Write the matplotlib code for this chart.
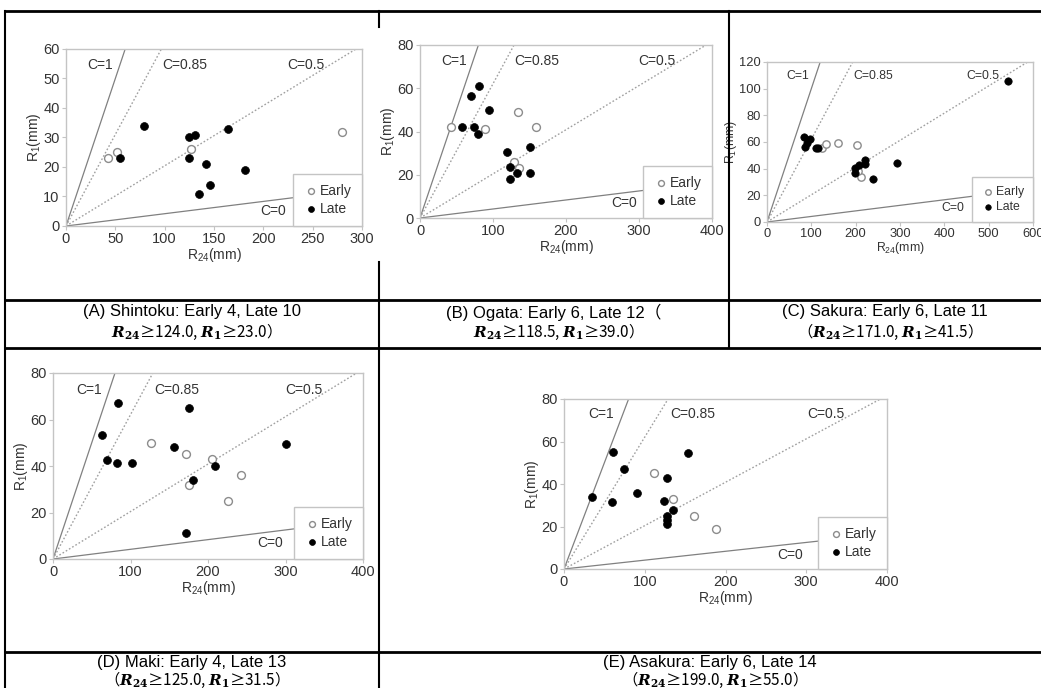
import matplotlib
matplotlib.use("Agg")
import matplotlib.pyplot as plt
from matplotlib.lines import Line2D
import numpy as np

plt.rcParams['font.family'] = ['Liberation Sans', 'DejaVu Sans']
plt.rcParams['mathtext.fontset'] = 'dejavuserif'

# ---------------- data ----------------
C_values = [1, 0.85, 0.5, 0]
C_labels = ["C=1", "C=0.85", "C=0.5", "C=0"]

A_early_x = [43, 52, 127, 280]
A_early_y = [23, 25, 26, 32]
A_late_x = [79, 55, 125, 131, 164, 125, 142, 146, 135, 181]
A_late_y = [34, 23, 30, 31, 33, 23, 21, 14, 11, 19]

B_early_x = [42, 89, 134, 159, 129, 135]
B_early_y = [42, 41, 49, 42, 26, 23]
B_late_x = [70, 81, 94, 58, 74, 79, 119, 150, 123, 123, 133, 151]
B_late_y = [56.5, 61, 50, 42, 42, 39, 30.5, 33, 23.5, 18, 21, 21]

C_early_x = [124, 133, 160, 204, 211, 205]
C_early_y = [55.5, 58.5, 59, 57.5, 34, 38]
C_late_x = [84, 96, 90, 86, 111, 116, 544, 199, 199, 208, 220, 220, 238, 294]
C_late_y = [64, 62, 59, 56.5, 55.5, 55.5, 106, 40.5, 37, 43, 46.5, 43.5, 32, 44]

D_early_x = [127, 171, 205, 175, 243, 226]
D_early_y = [50, 45, 43, 32, 36, 25]
D_late_x = [63, 84, 70, 83, 102, 156, 175, 209, 181, 172, 301]
D_late_y = [53.5, 67, 42.5, 41.5, 41.5, 48, 65, 40, 34, 11, 49.5]

E_early_x = [112, 135, 161, 188]
E_early_y = [45, 33, 25, 19]
E_late_x = [61, 35, 59, 74, 91, 154, 128, 124, 135, 127, 127, 127]
E_late_y = [55, 34, 31.5, 47, 36, 54.5, 43, 32, 28, 25, 23, 21]

captions1 = ["(A) Shintoku: Early 4, Late 10", "(B) Ogata: Early 6, Late 12\uff08",
             "(C) Sakura: Early 6, Late 11", "(D) Maki: Early 4, Late 13",
             "(E) Asakura: Early 6, Late 14"]
R = r"$\mathbfit{R}_{\mathbf{24}}$"
R1 = r"$\mathbfit{R}_{\mathbf{1}}$"
captions2 = [R + "\u2265124.0, " + R1 + "\u226523.0\uff09",
             R + "\u2265118.5, " + R1 + "\u226539.0\uff09",
             "\uff08" + R + "\u2265171.0, " + R1 + "\u226541.5\uff09",
             "\uff08" + R + "\u2265125.0, " + R1 + "\u226531.5\uff09",
             "\uff08" + R + "\u2265199.0, " + R1 + "\u226555.0\uff09"]

# ---------------- figure ----------------
W, H = 1041, 688
fig = plt.figure(figsize=(W / 100, H / 100), dpi=100)
fig.patch.set_facecolor('white')


def px_axes(x0, y0, x1, y1):
    return fig.add_axes([x0 / W, 1 - y1 / H, (x1 - x0) / W, (y1 - y0) / H])


def hline(y, x0, x1, lw=2):
    fig.add_artist(Line2D([x0 / W, x1 / W], [1 - y / H, 1 - y / H], color='black', lw=lw))


def vline(x, y0, y1, lw=1.5):
    fig.add_artist(Line2D([x / W, x / W], [1 - y0 / H, 1 - y1 / H], color='black', lw=lw))


# table lines
hline(11, 5, 1041)
hline(300, 5, 1041)
hline(348, 5, 1041)
hline(652, 5, 1041)
vline(5, 11, 688)
vline(379, 11, 27)
vline(379, 262, 688)
vline(729, 11, 348)

# (data..., pixel box, xmax, ymax, xstep, ystep, font scale, ylabel x-coord)
panels = [
    (A_early_x, A_early_y, A_late_x, A_late_y, (66, 49, 362, 226), 300, 60, 50, 10, 1.0, None),
    (B_early_x, B_early_y, B_late_x, B_late_y, (420, 45, 712, 218), 400, 80, 100, 20, 1.0, None),
    (C_early_x, C_early_y, C_late_x, C_late_y, (767, 62, 1033, 222), 600, 120, 100, 20, 0.88, -0.107),
    (D_early_x, D_early_y, D_late_x, D_late_y, (53, 373, 363, 559), 400, 80, 100, 20, 1.0, None),
    (E_early_x, E_early_y, E_late_x, E_late_y, (564, 399, 887, 569), 400, 80, 100, 20, 1.0, None),
]

label_pos = [(0.115, 0.91), (0.40, 0.91), (0.81, 0.91), (0.70, 0.085)]
spine_c = '#c4c4c4'
txt_c = '#333333'

for ex, ey, lx, ly, box, xmax, ymax, xs, ys, fs, ylx in panels:
    ax = px_axes(*box)
    ax.set_xlim(0, xmax)
    ax.set_ylim(0, ymax)
    xx = np.array([0, xmax * 2])
    for c in C_values:
        slope = 24.0 ** (c - 1)
        if c in (1, 0):
            ax.plot(xx, slope * xx, color='#808080', lw=0.9, zorder=1)
        else:
            ax.plot(xx, slope * xx, color='#a0a0a0', lw=1.0, ls=(0, (1.2, 1.5)), zorder=1)
    for lab, (tx, ty) in zip(C_labels, label_pos):
        ax.text(tx, ty, lab, transform=ax.transAxes, ha='center', va='center',
                fontsize=10 * fs, color=txt_c, zorder=2)
    ax.scatter(ex, ey, s=32 * fs, facecolors='white', edgecolors='#8c8c8c', linewidths=1.0,
               zorder=3, label='Early')
    ax.scatter(lx, ly, s=32 * fs, facecolors='black', edgecolors='black', linewidths=0.5,
               zorder=4, label='Late')
    ax.set_xticks(np.arange(0, xmax + 1, xs))
    ax.set_yticks(np.arange(0, ymax + 1, ys))
    for s in ax.spines.values():
        s.set_color(spine_c)
        s.set_linewidth(1.0)
    ax.tick_params(direction='out', length=3, width=0.8, color=spine_c,
                   labelsize=10.5 * fs, labelcolor=txt_c, pad=1.5)
    ax.set_xlabel(r"R$_\mathregular{24}$(mm)", fontsize=10 * fs, color=txt_c, labelpad=0)
    ax.set_ylabel(r"R$_\mathregular{1}$(mm)", fontsize=10 * fs, color=txt_c, labelpad=0)
    if ylx is not None:
        ax.yaxis.set_label_coords(ylx, 0.5)
    leg = ax.legend(loc='lower right', borderaxespad=0, fancybox=False, framealpha=1,
                    edgecolor=spine_c, fontsize=10 * fs, handletextpad=0.15,
                    handlelength=1.0, borderpad=0.75, labelspacing=0.25, markerscale=0.75)
    leg.get_frame().set_linewidth(1.0)
    for t in leg.get_texts():
        t.set_color(txt_c)
    leg.set_zorder(5)

# captions
cap_fam = ['Liberation Sans', 'Noto Sans CJK JP', 'DejaVu Sans']
cx = [192, 554, 885, 192, 710]
cy1 = [312, 312, 312, 663, 663]
cy2 = [332, 332, 332, 680, 680]
for t1, t2, x, y1, y2 in zip(captions1, captions2, cx, cy1, cy2):
    fig.text(x / W, 1 - y1 / H, t1, ha='center', va='center', fontsize=12,
             family=cap_fam, color='black')
    fig.text(x / W, 1 - y2 / H, t2, ha='center', va='center', fontsize=11,
             family='Noto Sans CJK JP', color='black')

fig.savefig('out.png', dpi=100, facecolor='white')
